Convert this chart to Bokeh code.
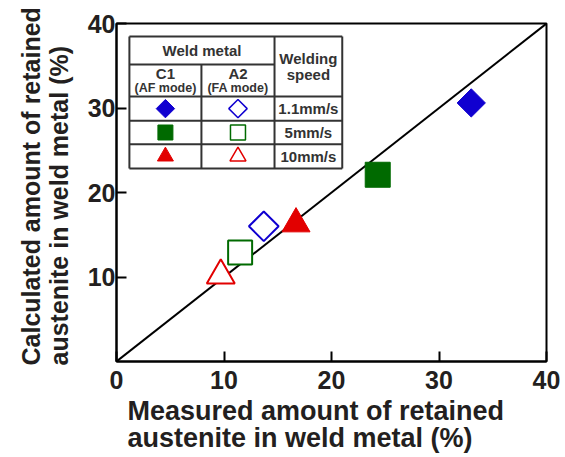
import math
from bokeh.plotting import figure
from bokeh.models import Range1d, FixedTicker, ColumnDataSource, Title
from bokeh.core.properties import value
from bokeh.embed import file_html
from bokeh.resources import INLINE

# ---- data ----
speeds = ["1.1mm/s", "5mm/s", "10mm/s"]
c1_measured = [33.0, 24.3, 16.7]
c1_calculated = [30.6, 22.1, 16.3]
a2_measured = [13.7, 11.5, 9.7]
a2_calculated = [16.0, 12.9, 10.2]
x_ticks = [0, 10, 20, 30, 40]
y_ticks = [10, 20, 30, 40]
diag = [0, 40]
x_title = "Measured amount of retained\naustenite in weld metal (%)"
y_title = "Calculated amount of retained\naustenite in weld metal (%)"

# ---- styles ----
colors = ["#1000d0", "#006a00", "#e20000"]
markers = ["square", "square", "triangle"]
angles = [math.pi / 4, 0, 0]
sizes_filled = [20, 25, 28]
sizes_open = [21, 24, 28]
sizes_legend = [13, 15, 16]
FONT = value("Liberation Sans")
TXT = "#231f20"

p = figure(width=565, height=457, x_range=Range1d(0, 40), y_range=Range1d(0, 40),
           output_backend="svg", toolbar_location=None,
           min_border_left=116, min_border_right=19, min_border_top=23, min_border_bottom=96)
p.xgrid.visible = False
p.ygrid.visible = False
p.outline_line_color = "black"
p.outline_line_width = 2
p.outline_line_alpha = 1

for ax, ticks in ((p.xaxis, x_ticks), (p.yaxis, y_ticks)):
    ax.ticker = FixedTicker(ticks=ticks)
    ax.minor_tick_line_color = None
    ax.major_tick_in = 10
    ax.major_tick_out = 0
    ax.major_tick_line_width = 2
    ax.major_tick_line_color = "black"
    ax.axis_line_width = 2
    ax.axis_line_color = "black"
    ax.major_label_text_font = "Liberation Sans"
    ax.major_label_text_font_style = "bold"
    ax.major_label_text_font_size = "25px"
    ax.major_label_text_color = TXT
p.xaxis.major_label_standoff = 9
p.yaxis.major_label_standoff = 1

# axis titles as side titles
tkw_t = dict(text_font="Liberation Sans", text_font_style="bold",
             text_color=TXT, align="left")
p.add_layout(Title(text=x_title, offset=11, standoff=5, text_font_size="27px",
                   text_line_height=0.9, **tkw_t), "below")
p.add_layout(Title(text=y_title, offset=-4, standoff=24, text_font_size="25px",
                   text_line_height=1.0, **tkw_t), "left")

# diagonal
p.line(diag, diag, line_color="black", line_width=2)

# data markers
src_c1 = ColumnDataSource(dict(x=c1_measured, y=c1_calculated, c=colors, m=markers, a=angles, s=sizes_filled))
src_a2 = ColumnDataSource(dict(x=a2_measured, y=a2_calculated, c=colors, m=markers, a=angles, s=sizes_open))
p.scatter("x", "y", source=src_c1, marker="m", angle="a", size="s", fill_color="c", line_color="c", line_width=1)
p.scatter("x", "y", source=src_a2, marker="m", angle="a", size="s", fill_color="white", line_color="c", line_width=2)

# ---- legend table (data coordinates) ----
tx = [1.2, 7.9, 14.7, 21.0]
ty = [38.45, 35.15, 31.35, 28.5, 25.7, 22.85]
p.quad(left=tx[0], right=tx[3], top=ty[0], bottom=ty[5], fill_color="white", line_color=None)
x0s, y0s, x1s, y1s = [], [], [], []
for yy, xa, xb in [(ty[0], tx[0], tx[3]), (ty[1], tx[0], tx[2]), (ty[2], tx[0], tx[3]),
                   (ty[3], tx[0], tx[3]), (ty[4], tx[0], tx[3]), (ty[5], tx[0], tx[3])]:
    x0s.append(xa); x1s.append(xb); y0s.append(yy); y1s.append(yy)
for xx, ya, yb in [(tx[0], ty[0], ty[5]), (tx[1], ty[1], ty[5]), (tx[2], ty[0], ty[5]), (tx[3], ty[0], ty[5])]:
    x0s.append(xx); x1s.append(xx); y0s.append(ya); y1s.append(yb)
p.segment(x0s, y0s, x1s, y1s, line_color="#333333", line_width=2)

row_y = [(ty[2] + ty[3]) / 2, (ty[3] + ty[4]) / 2, (ty[4] + ty[5]) / 2]
col1 = (tx[0] + tx[1]) / 2
col2 = (tx[1] + tx[2]) / 2
col3 = (tx[2] + tx[3]) / 2
leg_c1 = ColumnDataSource(dict(x=[col1] * 3, y=row_y, c=colors, m=markers, a=angles, s=sizes_legend))
leg_a2 = ColumnDataSource(dict(x=[col2] * 3, y=row_y, c=colors, m=markers, a=angles, s=sizes_legend))
p.scatter("x", "y", source=leg_c1, marker="m", angle="a", size="s", fill_color="c", line_color="c", line_width=1)
p.scatter("x", "y", source=leg_a2, marker="m", angle="a", size="s", fill_color="white", line_color="c", line_width=1.5)

tkw = dict(text_font=FONT, text_font_style="bold", text_color="#333333",
           text_align="center", text_baseline="middle")
p.text(x=[col3] * 3, y=row_y, text=speeds, text_font_size="15px", **tkw)
p.text(x=[(tx[0] + tx[2]) / 2], y=[(ty[0] + ty[1]) / 2], text=["Weld metal"], text_font_size="15px", **tkw)
p.text(x=[col3], y=[(ty[0] + ty[2]) / 2], text=["Welding\nspeed"], text_font_size="15px",
       text_line_height=0.9, **tkw)
p.text(x=[col1, col2], y=[34.1, 34.1], text=["C1", "A2"], text_font_size="15px", **tkw)
p.text(x=[col1, col2], y=[32.4, 32.4], text=["(AF mode)", "(FA mode)"], text_font_size="12.5px", **tkw)

open("out.html", "w").write(file_html(p, INLINE))
